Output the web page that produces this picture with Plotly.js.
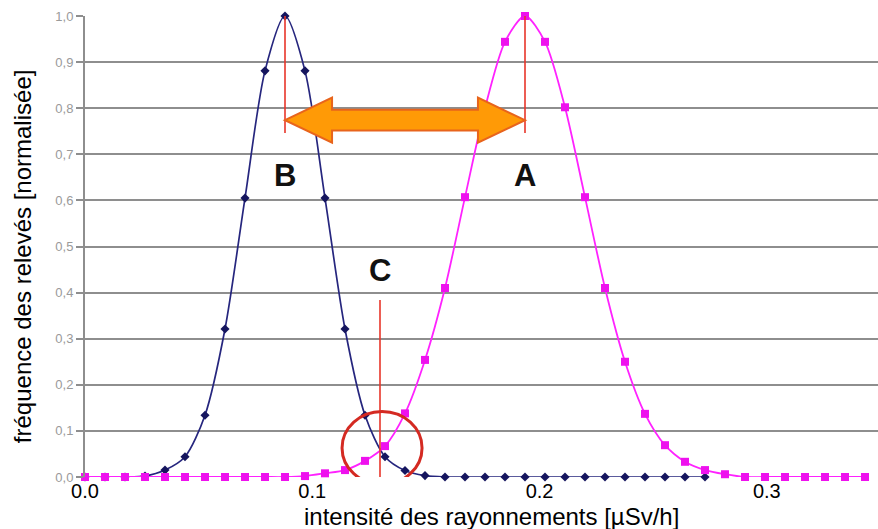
<!DOCTYPE html>
<html>
<head>
<meta charset="utf-8">
<script src="https://cdn.plot.ly/plotly-3.0.1.min.js"></script>
<style>
  html, body { margin: 0; padding: 0; background: #ffffff; }
  #chart { width: 878px; height: 529px; }
</style>
</head>
<body>
<div id="chart"></div>
<script>
// intensity values (µSv/h), one per measurement class
var intensity = [0, 0.0088, 0.0176, 0.0264, 0.0352, 0.044, 0.0528, 0.0616, 0.0704, 0.0792,
  0.088, 0.0968, 0.1056, 0.1144, 0.1232, 0.132, 0.1408, 0.1496, 0.1584, 0.1672,
  0.176, 0.1848, 0.1936, 0.2024, 0.2112, 0.22, 0.2288, 0.2376, 0.2464, 0.2552,
  0.264, 0.2728, 0.2816, 0.2904, 0.2992, 0.308, 0.3168, 0.3256, 0.3344, 0.3432];

// normalised frequency, distribution B (dark blue) - series stops at 0.2728
var freqB = [0, 0, 0, 0.002, 0.015, 0.044, 0.134, 0.321, 0.605, 0.881,
  1.0, 0.881, 0.605, 0.321, 0.134, 0.044, 0.014, 0.003, 0, 0,
  0, 0, 0, 0, 0, 0, 0, 0, 0, 0,
  0, 0];

// normalised frequency, distribution A (magenta)
var freqA = [0, 0, 0, 0, 0, 0, 0, 0, 0, 0,
  0, 0.002, 0.008, 0.015, 0.035, 0.067, 0.138, 0.254, 0.41, 0.607,
  0.80, 0.944, 1.0, 0.944, 0.802, 0.607, 0.41, 0.25, 0.137, 0.069,
  0.033, 0.015, 0.006, 0, 0, 0, 0, 0, 0, 0];

var xTickVals = [0, 0.1, 0.2, 0.3];
var xTickText = ["0.0", "0.1", "0.2", "0.3"];
var yTickVals = [0, 0.1, 0.2, 0.3, 0.4, 0.5, 0.6, 0.7, 0.8, 0.9, 1.0];
var yTickText = ["0,0", "0,1", "0,2", "0,3", "0,4", "0,5", "0,6", "0,7", "0,8", "0,9", "1,0"];

var FONT = "Liberation Sans, Arial, Helvetica, sans-serif";

// peak positions taken from the data
var iB = freqB.indexOf(Math.max.apply(null, freqB));
var iA = freqA.indexOf(Math.max.apply(null, freqA));
var xB = intensity[iB], xA = intensity[iA];
var xC = 0.1298;          // crossing point C
var yCirc = 0.063;

var traces = [
  {
    x: intensity.slice(0, freqB.length), y: freqB, type: "scatter", mode: "lines+markers",
    line: {color: "#26267e", width: 1.7, shape: "spline", smoothing: 0.8},
    marker: {symbol: "diamond", size: 7, color: "#15155e"},
    cliponaxis: false, hoverinfo: "skip"
  },
  {
    x: intensity, y: freqA, type: "scatter", mode: "lines+markers",
    line: {color: "#ff22ff", width: 1.8, shape: "spline", smoothing: 0.8},
    marker: {symbol: "square", size: 8, color: "#ee11ee"},
    cliponaxis: false, hoverinfo: "skip"
  }
];

// double arrow between the two peaks
var yMid = 0.774, shaftHalf = 0.0225, headHalf = 0.0488, headLen = 0.0207;
var L = xB, R = xA;
var arrowPath = "M " + L + "," + yMid +
  " L " + (L + headLen) + "," + (yMid + headHalf) +
  " L " + (L + headLen) + "," + (yMid + shaftHalf) +
  " L " + (R - headLen) + "," + (yMid + shaftHalf) +
  " L " + (R - headLen) + "," + (yMid + headHalf) +
  " L " + R + "," + yMid +
  " L " + (R - headLen) + "," + (yMid - headHalf) +
  " L " + (R - headLen) + "," + (yMid - shaftHalf) +
  " L " + (L + headLen) + "," + (yMid - shaftHalf) +
  " L " + (L + headLen) + "," + (yMid - headHalf) + " Z";

var redLine = {color: "#e8352a", width: 1.6};

var shapes = [
  {type: "line", xref: "x", yref: "y", x0: xB, x1: xB, y0: 1.0, y1: 0.746, line: redLine},
  {type: "line", xref: "x", yref: "y", x0: xA, x1: xA, y0: 1.0, y1: 0.746, line: redLine},
  {type: "line", xref: "x", yref: "y", x0: xC, x1: xC, y0: 0.384, y1: -0.011, line: redLine},
  {type: "path", xref: "x", yref: "y", path: arrowPath,
   fillcolor: "#ff9a06", line: {color: "#e8641c", width: 2}},
  {type: "circle", xref: "x", yref: "y",
   x0: 0.1131, x1: 0.1483, y0: yCirc - 0.079, y1: yCirc + 0.079,
   line: {color: "#d42a22", width: 3}}
];

var annotations = [
  {x: xB, y: 0.653, xref: "x", yref: "y", text: "B", showarrow: false,
   font: {family: FONT, size: 31, color: "#111111", weight: "bold"}},
  {x: xA, y: 0.655, xref: "x", yref: "y", text: "A", showarrow: false,
   font: {family: FONT, size: 31, color: "#111111", weight: "bold"}},
  {x: xC, y: 0.449, xref: "x", yref: "y", text: "C", showarrow: false,
   font: {family: FONT, size: 31, color: "#111111", weight: "bold"}},
  // axis titles, placed as in the reference
  {x: -0.0795, y: 0.479, xref: "paper", yref: "paper", xanchor: "center", yanchor: "middle",
   text: "fréquence des relevés [normalisée]", textangle: -90, showarrow: false,
   font: {family: FONT, size: 24, color: "#000000"}},
  {x: 0.5132, y: -0.0846, xref: "paper", yref: "paper", xanchor: "center", yanchor: "middle",
   text: "intensité des rayonnements [µSv/h]", showarrow: false,
   font: {family: FONT, size: 24, color: "#000000"}}
];

var layout = {
  width: 878, height: 529,
  margin: {l: 85, r: 0, t: 16, b: 52},
  paper_bgcolor: "#ffffff", plot_bgcolor: "#ffffff",
  showlegend: false,
  font: {family: FONT},
  xaxis: {
    range: [0, 0.34892],
    tickvals: xTickVals, ticktext: xTickText,
    showgrid: false, zeroline: false, showline: false, ticks: "",
    tickfont: {family: FONT, size: 20, color: "#000000"}
  },
  yaxis: {
    range: [0, 1.0],
    tickvals: yTickVals, ticktext: yTickText,
    showgrid: true, gridcolor: "#8e8e8e", gridwidth: 2,
    zeroline: false,
    showline: true, linecolor: "#8e8e8e", linewidth: 2,
    ticks: "outside", ticklen: 7, tickwidth: 2, tickcolor: "#8e8e8e",
    tickfont: {family: FONT, size: 13, color: "#9a9a9a"}
  },
  shapes: shapes,
  annotations: annotations
};

Plotly.newPlot("chart", traces, layout, {staticPlot: true, displayModeBar: false});
</script>
</body>
</html>
